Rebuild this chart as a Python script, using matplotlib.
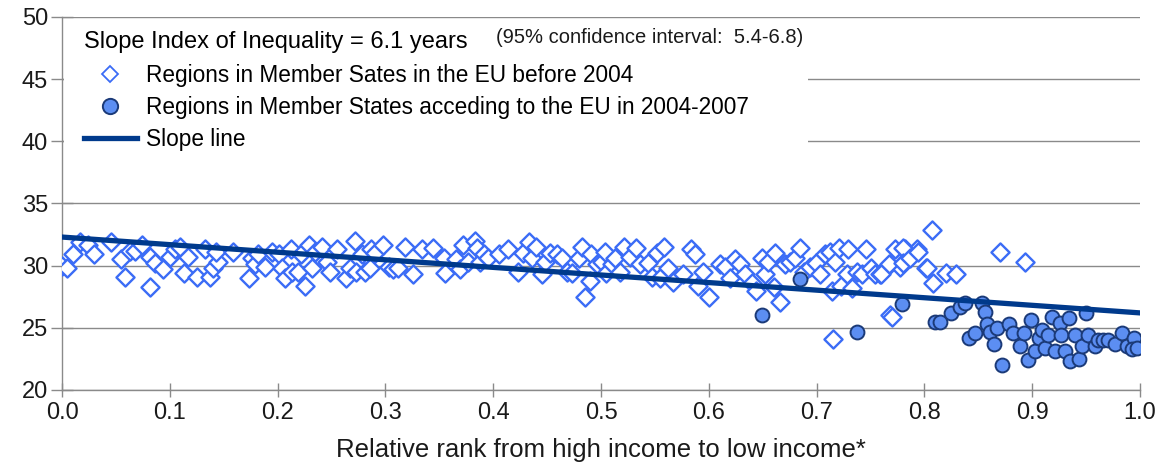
import matplotlib
matplotlib.use('Agg')
import matplotlib.pyplot as plt
from matplotlib.lines import Line2D
from matplotlib.patches import Rectangle
from matplotlib import font_manager

# font: narrow sans if available
names = {f.name for f in font_manager.fontManager.ttflist}
family = 'Liberation Sans Narrow' if 'Liberation Sans Narrow' in names else 'Liberation Sans'
plt.rcParams['font.family'] = [family, 'DejaVu Sans']

# regions in EU-15 member states (rank, life expectancy)
old_x = [0.000, 0.005, 0.010, 0.017, 0.024, 0.030, 0.045, 0.055, 0.058, 0.063,
         0.068, 0.074, 0.082, 0.082, 0.086, 0.094, 0.100, 0.105, 0.109, 0.113,
         0.117, 0.125, 0.133, 0.137, 0.140, 0.145, 0.143, 0.159, 0.173, 0.176,
         0.179, 0.182, 0.188, 0.195, 0.201, 0.204, 0.207, 0.212, 0.213, 0.219,
         0.222, 0.225, 0.229, 0.232, 0.235, 0.241, 0.246, 0.249, 0.255, 0.263,
         0.267, 0.272, 0.273, 0.278, 0.281, 0.286, 0.287, 0.290, 0.298, 0.303,
         0.307, 0.312, 0.318, 0.326, 0.334, 0.344, 0.354, 0.355, 0.365, 0.369,
         0.372, 0.377, 0.383, 0.385, 0.388, 0.391, 0.395, 0.405, 0.414, 0.423,
         0.428, 0.433, 0.436, 0.440, 0.445, 0.448, 0.453, 0.459, 0.464, 0.468,
         0.473, 0.480, 0.482, 0.485, 0.490, 0.491, 0.496, 0.501, 0.504, 0.505,
         0.510, 0.513, 0.518, 0.521, 0.527, 0.532, 0.536, 0.544, 0.547, 0.552,
         0.555, 0.558, 0.562, 0.567, 0.576, 0.583, 0.587, 0.590, 0.595, 0.600,
         0.610, 0.615, 0.620, 0.624, 0.629, 0.634, 0.640, 0.644, 0.649, 0.652,
         0.655, 0.660, 0.661, 0.666, 0.671, 0.675, 0.680, 0.685, 0.688, 0.694,
         0.699, 0.703, 0.708, 0.712, 0.714, 0.715, 0.717, 0.721, 0.723, 0.728,
         0.729, 0.733, 0.737, 0.742, 0.746, 0.750, 0.754, 0.759, 0.765, 0.768,
         0.773, 0.777, 0.782, 0.785, 0.793, 0.801, 0.807, 0.780, 0.767, 0.760,
         0.780, 0.787, 0.794, 0.802, 0.808, 0.820, 0.829, 0.770, 0.870, 0.893]
old_y = [30.0, 29.8, 30.9, 31.9, 31.7, 30.9, 31.9, 30.5, 29.1, 31.2,
         31.2, 31.7, 28.3, 30.7, 30.2, 29.7, 30.7, 31.3, 31.5, 29.4,
         30.7, 29.1, 31.3, 29.1, 29.8, 30.3, 31.1, 31.1, 29.0, 30.6,
         30.1, 30.9, 29.9, 31.1, 30.9, 29.8, 29.0, 31.3, 29.5, 29.5,
         30.9, 28.4, 31.7, 29.8, 31.1, 31.5, 30.3, 29.5, 31.3, 29.0,
         29.8, 32.0, 29.5, 30.9, 29.5, 29.8, 31.3, 31.0, 31.7, 29.9,
         29.7, 29.8, 31.5, 29.3, 31.3, 31.4, 30.6, 29.4, 30.5, 29.7,
         31.7, 30.3, 32.0, 31.4, 30.3, 30.9, 30.6, 30.9, 31.3, 29.5,
         31.0, 31.9, 30.6, 31.5, 29.3, 30.3, 31.0, 30.9, 30.6, 29.5,
         29.4, 30.6, 31.5, 27.5, 28.8, 30.9, 30.1, 30.3, 31.1, 29.4,
         30.1, 30.6, 29.5, 31.5, 30.7, 31.4, 30.1, 30.2, 29.1, 31.0,
         29.0, 31.5, 29.8, 28.7, 29.3, 31.3, 30.9, 28.4, 29.5, 27.5,
         30.1, 29.9, 29.0, 30.5, 30.1, 29.3, 28.6, 28.0, 30.6, 29.3,
         30.3, 28.3, 31.0, 27.1, 30.1, 30.3, 30.6, 31.4, 29.5, 29.9,
         30.2, 29.3, 30.9, 31.1, 28.0, 24.1, 30.3, 31.4, 28.4, 29.3,
         31.3, 28.2, 29.5, 29.3, 31.3, 29.8, 29.3, 29.3, 29.9, 26.0,
         31.3, 29.9, 31.3, 30.6, 31.3, 29.8, 32.9, 31.4, 30.1, 29.3,
         30.2, 30.6, 31.1, 29.8, 28.6, 29.4, 29.3, 25.9, 31.1, 30.3]

# regions in member states acceding 2004-2007
new_x = [0.649, 0.685, 0.737, 0.779, 0.810, 0.814, 0.825, 0.833, 0.838, 0.853,
         0.856, 0.841, 0.847, 0.858, 0.861, 0.867, 0.865, 0.872, 0.878, 0.882,
         0.889, 0.892, 0.899, 0.896, 0.903, 0.906, 0.909, 0.912, 0.915, 0.918,
         0.921, 0.926, 0.927, 0.930, 0.934, 0.935, 0.940, 0.943, 0.946, 0.950,
         0.952, 0.958, 0.961, 0.966, 0.970, 0.977, 0.983, 0.988, 0.994, 0.993,
         0.997]
new_y = [26.0, 28.9, 24.7, 26.9, 25.5, 25.5, 26.2, 26.7, 27.0, 27.0,
         26.3, 24.2, 24.6, 25.3, 24.7, 25.0, 23.7, 22.0, 25.3, 24.6,
         23.5, 24.6, 25.6, 22.4, 23.1, 24.2, 24.8, 23.4, 24.4, 25.9,
         23.1, 25.4, 24.4, 23.1, 25.8, 22.3, 24.4, 22.5, 23.5, 26.2,
         24.4, 23.5, 24.0, 24.0, 24.0, 23.7, 24.6, 23.5, 24.2, 23.3,
         23.4]

# slope index of inequality
sii = 6.1
ci_low, ci_high = 5.4, 6.8
intercept = 32.3
line_x = [0.0, 1.0]
line_y = [intercept - sii * v for v in line_x]

fig = plt.figure(figsize=(11.64, 4.73), dpi=100)
ax = fig.add_axes([0.0533, 0.1755, 0.9261, 0.7886])

ax.scatter(old_x, old_y, marker='D', s=85, facecolors='white', edgecolors='#3B6CF6',
           linewidths=1.7, zorder=3)
ax.scatter(new_x, new_y, marker='o', s=100, facecolors='#5C8EF2', edgecolors='#1B3A78',
           linewidths=1.4, zorder=4)
ax.plot(line_x, line_y, color='#003A8C', linewidth=3.8, zorder=5)

ax.set_xlim(0, 1.0)
ax.set_ylim(20, 50)
ax.set_xticks([i / 10 for i in range(11)])
ax.set_xticklabels(['%.1f' % (i / 10) for i in range(11)])
ax.set_yticks(range(20, 51, 5))
ax.yaxis.grid(True, color='#8a8a8a', linewidth=1.0)
ax.set_axisbelow(True)
for s in ['top', 'right']:
    ax.spines[s].set_visible(False)
for s in ['left', 'bottom']:
    ax.spines[s].set_color('#8a8a8a')
    ax.spines[s].set_linewidth(1.0)
ax.tick_params(axis='y', direction='inout', length=16, width=1.0, color='#8a8a8a',
               labelsize=17, labelcolor='#1a1a1a', pad=2)
ax.tick_params(axis='x', direction='inout', length=10, width=1.0, color='#8a8a8a',
               labelsize=17, labelcolor='#1a1a1a', pad=4)
ax.set_xlabel('Relative rank from high income to low income*', fontsize=18.5,
              color='#1a1a1a', labelpad=10)

# white box behind the legend block
ax.add_patch(Rectangle((0.002, 0.56), 0.69, 0.425, transform=ax.transAxes,
                       facecolor='white', edgecolor='none', zorder=1))

handles = [
    Line2D([], [], linestyle='none', marker='D', markersize=8.5, markerfacecolor='white',
           markeredgecolor='#3B6CF6', markeredgewidth=1.3),
    Line2D([], [], linestyle='none', marker='o', markersize=11, markerfacecolor='#5C8EF2',
           markeredgecolor='#1B3A78', markeredgewidth=1.4),
    Line2D([], [], color='#003A8C', linewidth=3.8),
]
labels = ['Regions in Member Sates in the EU before 2004',
          'Regions in Member States acceding to the EU in 2004-2007',
          'Slope line']
leg = ax.legend(handles, labels, loc='upper left', bbox_to_anchor=(0.004, 1.012),
                title='Slope Index of Inequality = %.1f years' % sii,
                fontsize=16.3, title_fontsize=17, frameon=False,
                handlelength=2.3, handletextpad=0.4, labelspacing=0.4, borderpad=0.3)
leg._legend_box.align = 'left'
leg._legend_box.sep = 8
leg.set_zorder(6)

ax.text(0.403, 0.93, '(95%% confidence interval:  %.1f-%.1f)' % (ci_low, ci_high),
        transform=ax.transAxes, fontsize=14.5, color='#1a1a1a', zorder=7)

plt.savefig('out.png', dpi=100)
